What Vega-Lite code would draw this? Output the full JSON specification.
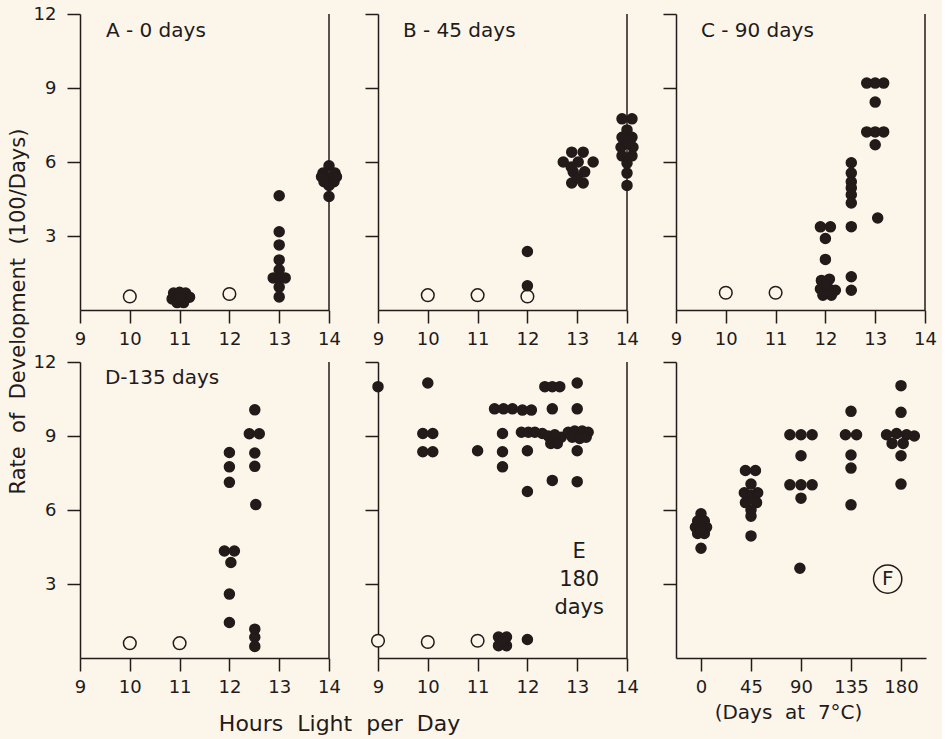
{
  "$schema": "https://vega.github.io/schema/vega-lite/v6.json",
  "autosize": {"type": "pad"},
  "padding": {"left": 7, "top": 5, "right": 5, "bottom": 5},
  "background": "#fcf6ea",
  "datasets": {
    "pts": [
      {"p":"A","x":10,"v":0.55,"t":"o"},{"p":"A","x":12,"v":0.65,"t":"o"},
      {"p":"A","x":10.88,"v":0.69,"t":"f"},{"p":"A","x":11.0,"v":0.72,"t":"f"},{"p":"A","x":11.12,"v":0.69,"t":"f"},{"p":"A","x":11.2,"v":0.52,"t":"f"},{"p":"A","x":10.85,"v":0.45,"t":"f"},{"p":"A","x":10.95,"v":0.3,"t":"f"},{"p":"A","x":11.08,"v":0.3,"t":"f"},{"p":"A","x":11.0,"v":0.5,"t":"f"},
      {"p":"A","x":13,"v":4.63,"t":"f"},{"p":"A","x":13,"v":3.17,"t":"f"},{"p":"A","x":13,"v":2.64,"t":"f"},{"p":"A","x":13,"v":2.03,"t":"f"},{"p":"A","x":13,"v":1.63,"t":"f"},{"p":"A","x":12.88,"v":1.3,"t":"f"},{"p":"A","x":13,"v":1.3,"t":"f"},{"p":"A","x":13.12,"v":1.3,"t":"f"},{"p":"A","x":13,"v":0.93,"t":"f"},{"p":"A","x":13,"v":0.53,"t":"f"},
      {"p":"A","x":13.88,"v":5.55,"t":"f"},{"p":"A","x":14,"v":5.85,"t":"f"},{"p":"A","x":14.12,"v":5.55,"t":"f"},{"p":"A","x":13.9,"v":5.2,"t":"f"},{"p":"A","x":14,"v":5.35,"t":"f"},{"p":"A","x":14.1,"v":5.2,"t":"f"},{"p":"A","x":14.15,"v":5.4,"t":"f"},{"p":"A","x":13.85,"v":5.4,"t":"f"},{"p":"A","x":14,"v":5.05,"t":"f"},{"p":"A","x":14,"v":4.6,"t":"f"},

      {"p":"B","x":10,"v":0.6,"t":"o"},{"p":"B","x":11,"v":0.6,"t":"o"},{"p":"B","x":12,"v":0.55,"t":"o"},
      {"p":"B","x":12,"v":2.37,"t":"f"},{"p":"B","x":12,"v":0.98,"t":"f"},
      {"p":"B","x":12.89,"v":6.4,"t":"f"},{"p":"B","x":13.12,"v":6.4,"t":"f"},{"p":"B","x":12.72,"v":6.0,"t":"f"},{"p":"B","x":13.02,"v":6.0,"t":"f"},{"p":"B","x":13.32,"v":6.0,"t":"f"},{"p":"B","x":12.92,"v":5.6,"t":"f"},{"p":"B","x":13.15,"v":5.6,"t":"f"},{"p":"B","x":12.89,"v":5.15,"t":"f"},{"p":"B","x":13.12,"v":5.15,"t":"f"},{"p":"B","x":13.0,"v":5.35,"t":"f"},{"p":"B","x":12.88,"v":5.8,"t":"f"},
      {"p":"B","x":13.9,"v":7.75,"t":"f"},{"p":"B","x":14.1,"v":7.75,"t":"f"},{"p":"B","x":14,"v":7.3,"t":"f"},{"p":"B","x":13.9,"v":7.0,"t":"f"},{"p":"B","x":14.1,"v":7.0,"t":"f"},{"p":"B","x":13.88,"v":6.6,"t":"f"},{"p":"B","x":14.12,"v":6.6,"t":"f"},{"p":"B","x":14,"v":6.75,"t":"f"},{"p":"B","x":13.9,"v":6.25,"t":"f"},{"p":"B","x":14.1,"v":6.25,"t":"f"},{"p":"B","x":14,"v":5.95,"t":"f"},{"p":"B","x":14,"v":5.55,"t":"f"},{"p":"B","x":14,"v":5.05,"t":"f"},

      {"p":"C","x":10,"v":0.7,"t":"o"},{"p":"C","x":11,"v":0.7,"t":"o"},
      {"p":"C","x":11.9,"v":3.37,"t":"f"},{"p":"C","x":12.1,"v":3.37,"t":"f"},{"p":"C","x":12,"v":2.9,"t":"f"},{"p":"C","x":12,"v":2.05,"t":"f"},{"p":"C","x":11.92,"v":1.2,"t":"f"},{"p":"C","x":12.08,"v":1.25,"t":"f"},{"p":"C","x":11.9,"v":0.85,"t":"f"},{"p":"C","x":12.05,"v":0.9,"t":"f"},{"p":"C","x":12.2,"v":0.8,"t":"f"},{"p":"C","x":11.95,"v":0.6,"t":"f"},{"p":"C","x":12.12,"v":0.6,"t":"f"},{"p":"C","x":12.0,"v":1.0,"t":"f"},
      {"p":"C","x":12.52,"v":5.97,"t":"f"},{"p":"C","x":12.52,"v":5.55,"t":"f"},{"p":"C","x":12.52,"v":5.2,"t":"f"},{"p":"C","x":12.52,"v":4.95,"t":"f"},{"p":"C","x":12.52,"v":4.67,"t":"f"},{"p":"C","x":12.52,"v":4.34,"t":"f"},{"p":"C","x":12.52,"v":3.38,"t":"f"},{"p":"C","x":12.52,"v":1.35,"t":"f"},{"p":"C","x":12.52,"v":0.8,"t":"f"},
      {"p":"C","x":12.83,"v":9.2,"t":"f"},{"p":"C","x":13.0,"v":9.2,"t":"f"},{"p":"C","x":13.17,"v":9.2,"t":"f"},{"p":"C","x":13.0,"v":8.43,"t":"f"},{"p":"C","x":12.83,"v":7.22,"t":"f"},{"p":"C","x":13.0,"v":7.22,"t":"f"},{"p":"C","x":13.17,"v":7.22,"t":"f"},{"p":"C","x":13.0,"v":6.7,"t":"f"},{"p":"C","x":13.05,"v":3.73,"t":"f"},

      {"p":"D","x":10,"v":0.6,"t":"o"},{"p":"D","x":11,"v":0.6,"t":"o"},
      {"p":"D","x":12,"v":8.33,"t":"f"},{"p":"D","x":12,"v":7.75,"t":"f"},{"p":"D","x":12,"v":7.12,"t":"f"},{"p":"D","x":11.9,"v":4.34,"t":"f"},{"p":"D","x":12.1,"v":4.34,"t":"f"},{"p":"D","x":12.03,"v":3.87,"t":"f"},{"p":"D","x":12,"v":2.59,"t":"f"},{"p":"D","x":12,"v":1.44,"t":"f"},
      {"p":"D","x":12.51,"v":10.06,"t":"f"},{"p":"D","x":12.4,"v":9.09,"t":"f"},{"p":"D","x":12.6,"v":9.09,"t":"f"},{"p":"D","x":12.51,"v":8.31,"t":"f"},{"p":"D","x":12.51,"v":7.77,"t":"f"},{"p":"D","x":12.53,"v":6.22,"t":"f"},{"p":"D","x":12.51,"v":1.17,"t":"f"},{"p":"D","x":12.51,"v":0.84,"t":"f"},{"p":"D","x":12.51,"v":0.47,"t":"f"},

      {"p":"E","x":9,"v":0.7,"t":"o"},{"p":"E","x":10,"v":0.65,"t":"o"},{"p":"E","x":11,"v":0.7,"t":"o"},
      {"p":"E","x":9,"v":11.0,"t":"f"},{"p":"E","x":10,"v":11.15,"t":"f"},{"p":"E","x":9.9,"v":9.1,"t":"f"},{"p":"E","x":10.1,"v":9.1,"t":"f"},{"p":"E","x":9.9,"v":8.36,"t":"f"},{"p":"E","x":10.1,"v":8.36,"t":"f"},{"p":"E","x":11,"v":8.4,"t":"f"},
      {"p":"E","x":11.34,"v":10.1,"t":"f"},{"p":"E","x":11.52,"v":10.1,"t":"f"},{"p":"E","x":11.7,"v":10.1,"t":"f"},{"p":"E","x":11.9,"v":10.05,"t":"f"},{"p":"E","x":12.08,"v":10.05,"t":"f"},
      {"p":"E","x":11.5,"v":9.1,"t":"f"},{"p":"E","x":11.5,"v":8.36,"t":"f"},{"p":"E","x":11.5,"v":7.75,"t":"f"},
      {"p":"E","x":11.88,"v":9.15,"t":"f"},{"p":"E","x":12.02,"v":9.15,"t":"f"},{"p":"E","x":12.15,"v":9.15,"t":"f"},{"p":"E","x":12.3,"v":9.1,"t":"f"},
      {"p":"E","x":12,"v":8.4,"t":"f"},{"p":"E","x":12,"v":6.75,"t":"f"},
      {"p":"E","x":12.35,"v":11.0,"t":"f"},{"p":"E","x":12.5,"v":11.0,"t":"f"},{"p":"E","x":12.65,"v":11.0,"t":"f"},{"p":"E","x":12.5,"v":10.1,"t":"f"},
      {"p":"E","x":12.42,"v":9.0,"t":"f"},{"p":"E","x":12.55,"v":9.05,"t":"f"},{"p":"E","x":12.68,"v":8.95,"t":"f"},{"p":"E","x":12.47,"v":8.7,"t":"f"},{"p":"E","x":12.6,"v":8.7,"t":"f"},{"p":"E","x":12.5,"v":7.2,"t":"f"},
      {"p":"E","x":13,"v":11.15,"t":"f"},{"p":"E","x":13,"v":10.1,"t":"f"},{"p":"E","x":12.82,"v":9.15,"t":"f"},{"p":"E","x":12.95,"v":9.2,"t":"f"},{"p":"E","x":13.1,"v":9.2,"t":"f"},{"p":"E","x":13.22,"v":9.15,"t":"f"},{"p":"E","x":12.9,"v":8.95,"t":"f"},{"p":"E","x":13.05,"v":8.9,"t":"f"},{"p":"E","x":13.18,"v":8.95,"t":"f"},{"p":"E","x":13,"v":8.4,"t":"f"},{"p":"E","x":13,"v":7.15,"t":"f"},
      {"p":"E","x":11.42,"v":0.85,"t":"f"},{"p":"E","x":11.58,"v":0.85,"t":"f"},{"p":"E","x":11.42,"v":0.5,"t":"f"},{"p":"E","x":11.58,"v":0.5,"t":"f"},{"p":"E","x":11.5,"v":0.68,"t":"f"},{"p":"E","x":12,"v":0.75,"t":"f"},

      {"p":"F","x":0,"v":5.85,"t":"f"},{"p":"F","x":-3,"v":5.55,"t":"f"},{"p":"F","x":3,"v":5.55,"t":"f"},{"p":"F","x":-5,"v":5.3,"t":"f"},{"p":"F","x":0,"v":5.35,"t":"f"},{"p":"F","x":5,"v":5.3,"t":"f"},{"p":"F","x":-3,"v":5.05,"t":"f"},{"p":"F","x":3,"v":5.05,"t":"f"},{"p":"F","x":0,"v":5.2,"t":"f"},{"p":"F","x":0,"v":4.45,"t":"f"},
      {"p":"F","x":40,"v":7.6,"t":"f"},{"p":"F","x":49,"v":7.6,"t":"f"},{"p":"F","x":45,"v":7.05,"t":"f"},{"p":"F","x":39,"v":6.7,"t":"f"},{"p":"F","x":45,"v":6.6,"t":"f"},{"p":"F","x":51,"v":6.7,"t":"f"},{"p":"F","x":40,"v":6.3,"t":"f"},{"p":"F","x":50,"v":6.3,"t":"f"},{"p":"F","x":45,"v":6.0,"t":"f"},{"p":"F","x":45,"v":5.75,"t":"f"},{"p":"F","x":45,"v":4.95,"t":"f"},
      {"p":"F","x":80,"v":9.05,"t":"f"},{"p":"F","x":90,"v":9.05,"t":"f"},{"p":"F","x":100,"v":9.05,"t":"f"},{"p":"F","x":90,"v":8.2,"t":"f"},{"p":"F","x":80,"v":7.02,"t":"f"},{"p":"F","x":90,"v":7.02,"t":"f"},{"p":"F","x":100,"v":7.02,"t":"f"},{"p":"F","x":90,"v":6.48,"t":"f"},{"p":"F","x":89,"v":3.64,"t":"f"},
      {"p":"F","x":135,"v":10.0,"t":"f"},{"p":"F","x":130,"v":9.05,"t":"f"},{"p":"F","x":140,"v":9.05,"t":"f"},{"p":"F","x":135,"v":8.23,"t":"f"},{"p":"F","x":135,"v":7.7,"t":"f"},{"p":"F","x":135,"v":6.21,"t":"f"},
      {"p":"F","x":180,"v":11.04,"t":"f"},{"p":"F","x":180,"v":9.96,"t":"f"},{"p":"F","x":167,"v":9.05,"t":"f"},{"p":"F","x":176,"v":9.1,"t":"f"},{"p":"F","x":185,"v":9.05,"t":"f"},{"p":"F","x":192,"v":9.0,"t":"f"},{"p":"F","x":172,"v":8.7,"t":"f"},{"p":"F","x":182,"v":8.7,"t":"f"},{"p":"F","x":180,"v":8.2,"t":"f"},{"p":"F","x":180,"v":7.05,"t":"f"}
    ]
  },
  "columns": 3,
  "spacing": {"row": 52, "column": 49},
  "bounds": "flush",
  "concat": [
    {
      "width": 249, "height": 296,
      "layer": [
        {"data": {"name": "pts"}, "transform": [{"filter": "datum.p === 'A'"}],
         "mark": {"type": "point", "shape": "circle", "filled": true, "stroke": "#231a1a", "strokeWidth": 1.5, "opacity": 1},
         "encoding": {
           "x": {"field": "x", "type": "quantitative", "scale": {"domain": [9, 14], "nice": false, "zero": false}, "axis": {"values": [9,10,11,12,13,14], "title": null}},
           "y": {"field": "v", "type": "quantitative", "scale": {"domain": [0, 12], "nice": false}, "axis": {"values": [3,6,9,12], "title": "Rate\u00a0\u00a0of\u00a0\u00a0Development\u00a0\u00a0(100/Days)", "titleX": -62, "titleY": 297, "titleAngle": 270, "titleAlign": "center", "titleBaseline": "middle", "titleFontSize": 21}},
           "fill": {"field": "t", "type": "nominal", "scale": {"domain": ["f","o"], "range": ["#231a1a", "#fcf6ea"]}, "legend": null},
           "size": {"field": "t", "type": "ordinal", "scale": {"domain": ["f","o"], "range": [100, 160]}, "legend": null}
         }},
        {"data": {"values": [{}]}, "mark": {"type": "rule", "color": "#231a1a", "strokeWidth": 1.5}, "encoding": {"x": {"datum": 14}, "y": {"datum": 0}, "y2": {"datum": 12}}},
        {"data": {"values": [{}]}, "mark": {"type": "text", "text": "A - 0 days", "align": "left", "baseline": "middle", "fontSize": 20}, "encoding": {"x": {"datum": 9.52}, "y": {"datum": 11.3}}}
      ]
    },
    {
      "width": 249, "height": 296,
      "layer": [
        {"data": {"name": "pts"}, "transform": [{"filter": "datum.p === 'B'"}],
         "mark": {"type": "point", "shape": "circle", "filled": true, "stroke": "#231a1a", "strokeWidth": 1.5, "opacity": 1},
         "encoding": {
           "x": {"field": "x", "type": "quantitative", "scale": {"domain": [9, 14], "nice": false, "zero": false}, "axis": {"values": [9,10,11,12,13,14], "title": null}},
           "y": {"field": "v", "type": "quantitative", "scale": {"domain": [0, 12], "nice": false}, "axis": {"values": [3,6,9,12], "labels": false, "title": null}},
           "fill": {"field": "t", "type": "nominal", "scale": {"domain": ["f","o"], "range": ["#231a1a", "#fcf6ea"]}, "legend": null},
           "size": {"field": "t", "type": "ordinal", "scale": {"domain": ["f","o"], "range": [100, 160]}, "legend": null}
         }},
        {"data": {"values": [{}]}, "mark": {"type": "rule", "color": "#231a1a", "strokeWidth": 1.5}, "encoding": {"x": {"datum": 14}, "y": {"datum": 0}, "y2": {"datum": 12}}},
        {"data": {"values": [{}]}, "mark": {"type": "text", "text": "B - 45 days", "align": "left", "baseline": "middle", "fontSize": 20}, "encoding": {"x": {"datum": 9.5}, "y": {"datum": 11.3}}}
      ]
    },
    {
      "width": 249, "height": 296,
      "layer": [
        {"data": {"name": "pts"}, "transform": [{"filter": "datum.p === 'C'"}],
         "mark": {"type": "point", "shape": "circle", "filled": true, "stroke": "#231a1a", "strokeWidth": 1.5, "opacity": 1},
         "encoding": {
           "x": {"field": "x", "type": "quantitative", "scale": {"domain": [9, 14], "nice": false, "zero": false}, "axis": {"values": [9,10,11,12,13,14], "title": null}},
           "y": {"field": "v", "type": "quantitative", "scale": {"domain": [0, 12], "nice": false}, "axis": {"values": [3,6,9,12], "labels": false, "title": null}},
           "fill": {"field": "t", "type": "nominal", "scale": {"domain": ["f","o"], "range": ["#231a1a", "#fcf6ea"]}, "legend": null},
           "size": {"field": "t", "type": "ordinal", "scale": {"domain": ["f","o"], "range": [100, 160]}, "legend": null}
         }},
        {"data": {"values": [{}]}, "mark": {"type": "rule", "color": "#231a1a", "strokeWidth": 1.5}, "encoding": {"x": {"datum": 14}, "y": {"datum": 0}, "y2": {"datum": 12}}},
        {"data": {"values": [{}]}, "mark": {"type": "text", "text": "C - 90 days", "align": "left", "baseline": "middle", "fontSize": 20}, "encoding": {"x": {"datum": 9.5}, "y": {"datum": 11.3}}}
      ]
    },
    {
      "width": 249, "height": 296,
      "layer": [
        {"data": {"name": "pts"}, "transform": [{"filter": "datum.p === 'D'"}],
         "mark": {"type": "point", "shape": "circle", "filled": true, "stroke": "#231a1a", "strokeWidth": 1.5, "opacity": 1},
         "encoding": {
           "x": {"field": "x", "type": "quantitative", "scale": {"domain": [9, 14], "nice": false, "zero": false}, "axis": {"values": [9,10,11,12,13,14], "title": "Hours\u00a0\u00a0Light\u00a0\u00a0per\u00a0\u00a0Day", "titleX": 259, "titleY": 65, "titleAlign": "center", "titleBaseline": "middle", "titleFontSize": 22}},
           "y": {"field": "v", "type": "quantitative", "scale": {"domain": [0, 12], "nice": false}, "axis": {"values": [3,6,9,12], "title": null}},
           "fill": {"field": "t", "type": "nominal", "scale": {"domain": ["f","o"], "range": ["#231a1a", "#fcf6ea"]}, "legend": null},
           "size": {"field": "t", "type": "ordinal", "scale": {"domain": ["f","o"], "range": [100, 160]}, "legend": null}
         }},
        {"data": {"values": [{}]}, "mark": {"type": "rule", "color": "#231a1a", "strokeWidth": 1.5}, "encoding": {"x": {"datum": 14}, "y": {"datum": 0}, "y2": {"datum": 12}}},
        {"data": {"values": [{}]}, "mark": {"type": "text", "text": "D-135 days", "align": "left", "baseline": "middle", "fontSize": 20}, "encoding": {"x": {"datum": 9.5}, "y": {"datum": 11.35}}}
      ]
    },
    {
      "width": 249, "height": 296,
      "layer": [
        {"data": {"name": "pts"}, "transform": [{"filter": "datum.p === 'E'"}],
         "mark": {"type": "point", "shape": "circle", "filled": true, "stroke": "#231a1a", "strokeWidth": 1.5, "opacity": 1},
         "encoding": {
           "x": {"field": "x", "type": "quantitative", "scale": {"domain": [9, 14], "nice": false, "zero": false}, "axis": {"values": [9,10,11,12,13,14], "title": null}},
           "y": {"field": "v", "type": "quantitative", "scale": {"domain": [0, 12], "nice": false}, "axis": {"values": [3,6,9,12], "labels": false, "title": null}},
           "fill": {"field": "t", "type": "nominal", "scale": {"domain": ["f","o"], "range": ["#231a1a", "#fcf6ea"]}, "legend": null},
           "size": {"field": "t", "type": "ordinal", "scale": {"domain": ["f","o"], "range": [100, 160]}, "legend": null}
         }},
        {"data": {"values": [{}]}, "mark": {"type": "rule", "color": "#231a1a", "strokeWidth": 1.5}, "encoding": {"x": {"datum": 14}, "y": {"datum": 0}, "y2": {"datum": 12}}},
        {"data": {"values": [{}]}, "mark": {"type": "text", "text": ["E", "180", "days"], "align": "center", "baseline": "middle", "fontSize": 21, "lineHeight": 28}, "encoding": {"x": {"datum": 13.04}, "y": {"datum": 4.28}}}
      ]
    },
    {
      "width": 250, "height": 296,
      "layer": [
        {"data": {"name": "pts"}, "transform": [{"filter": "datum.p === 'F'"}],
         "mark": {"type": "point", "shape": "circle", "filled": true, "stroke": "#231a1a", "strokeWidth": 1.5, "opacity": 1},
         "encoding": {
           "x": {"field": "x", "type": "quantitative", "scale": {"domain": [-22.5, 202.5], "nice": false, "zero": false}, "axis": {"values": [0,45,90,135,180], "title": "(Days\u00a0\u00a0at\u00a0\u00a07°C)", "titleX": 112, "titleY": 54, "titleAlign": "center", "titleBaseline": "middle", "titleFontSize": 20}},
           "y": {"field": "v", "type": "quantitative", "scale": {"domain": [0, 12], "nice": false}, "axis": {"values": [3,6,9,12], "labels": false, "title": null}},
           "fill": {"field": "t", "type": "nominal", "scale": {"domain": ["f","o"], "range": ["#231a1a", "#fcf6ea"]}, "legend": null},
           "size": {"field": "t", "type": "ordinal", "scale": {"domain": ["f","o"], "range": [100, 160]}, "legend": null}
         }},
        {"data": {"values": [{}]}, "mark": {"type": "point", "shape": "circle", "filled": false, "size": 800, "stroke": "#231a1a", "strokeWidth": 1.5, "opacity": 1}, "encoding": {"x": {"datum": 168}, "y": {"datum": 3.2}}},
        {"data": {"values": [{}]}, "mark": {"type": "text", "text": "F", "align": "center", "baseline": "middle", "fontSize": 20}, "encoding": {"x": {"datum": 168}, "y": {"datum": 3.2}}}
      ]
    }
  ],
  "config": {
    "view": {"stroke": null},
    "font": "DejaVu Sans",
    "axis": {
      "grid": false,
      "domainColor": "#231a1a", "domainWidth": 1.5,
      "tickColor": "#231a1a", "tickWidth": 1.5, "tickSize": 13,
      "labelColor": "#231a1a", "labelFont": "DejaVu Sans", "labelFontSize": 18, "labelPadding": 7,
      "labelFlush": false, "labelOverlap": false,
      "titleColor": "#231a1a", "titleFont": "DejaVu Sans", "titleFontSize": 20, "titleFontWeight": "normal"
    },
    "axisLeft": {"labelPadding": 11},
    "text": {"color": "#231a1a", "font": "DejaVu Sans"}
  }
}
